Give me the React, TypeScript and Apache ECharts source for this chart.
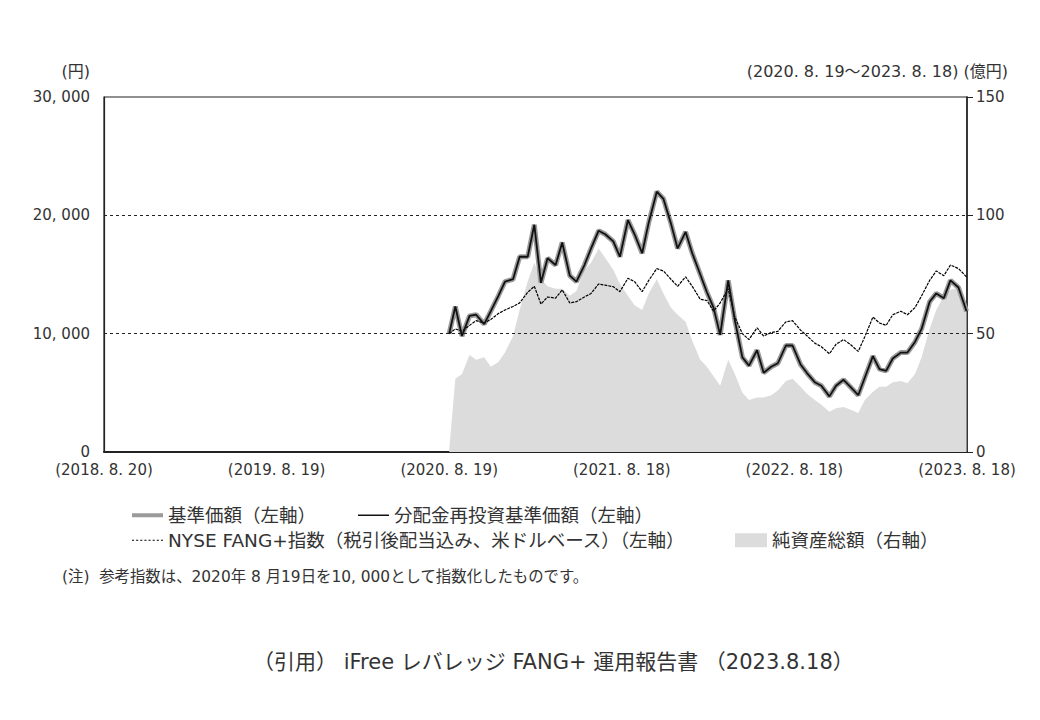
import React, { useEffect, useRef } from 'react';
import * as echarts from 'echarts';

const startDate = '2018-08-20';
const xTickLabels = ['(2018. 8. 20)', '(2019. 8. 19)', '(2020. 8. 19)', '(2021. 8. 18)', '(2022. 8. 18)', '(2023. 8. 18)'];
const dottedLevels = [10000, 20000];

const dates = [
  '2020-08-19', '2020-09-01', '2020-09-15', '2020-10-01', '2020-10-15', '2020-11-01', '2020-11-15', '2020-12-01', '2020-12-15',
  '2021-01-01', '2021-01-15', '2021-02-01', '2021-02-15', '2021-03-01', '2021-03-15', '2021-04-01', '2021-04-15',
  '2021-05-01', '2021-05-15', '2021-06-01', '2021-06-15', '2021-07-01', '2021-07-15', '2021-08-01', '2021-08-15',
  '2021-09-01', '2021-09-15', '2021-10-01', '2021-10-15', '2021-11-01', '2021-11-15', '2021-12-01', '2021-12-15',
  '2022-01-01', '2022-01-15', '2022-02-01', '2022-02-15', '2022-03-01', '2022-03-15', '2022-04-01', '2022-04-15',
  '2022-05-01', '2022-05-15', '2022-06-01', '2022-06-15', '2022-07-01', '2022-07-15', '2022-08-01', '2022-08-15',
  '2022-09-01', '2022-09-15', '2022-10-01', '2022-10-15', '2022-11-01', '2022-11-15', '2022-12-01', '2022-12-15',
  '2023-01-01', '2023-01-15', '2023-02-01', '2023-02-15', '2023-03-01', '2023-03-15', '2023-04-01', '2023-04-15',
  '2023-05-01', '2023-05-15', '2023-06-01', '2023-06-15', '2023-07-01', '2023-07-15', '2023-08-01', '2023-08-18',
];

// 基準価額 (円) — 分配金再投資基準価額 is the same (no distributions)
const navValues = [
  10000, 12300, 9800, 11500, 11600, 10800, 11900, 13200, 14400, 14600,
  16500, 16500, 19200, 14300, 16370, 15800, 17700, 14900, 14400, 15800,
  17200, 18700, 18400, 17800, 16500, 19600, 18400, 16800, 19400, 22000,
  21400, 19300, 17200, 18600, 16800, 15000, 13500, 12200, 9900, 14500,
  11150, 8000, 7300, 8600, 6700, 7200, 7500, 9000, 9000, 7400,
  6650, 5900, 5600, 4700, 5600, 6100, 5520, 4800, 6300, 8100,
  7000, 6850, 7900, 8400, 8400, 9300, 10400, 12700, 13400, 13000,
  14500, 13900, 11900,
];

// NYSE FANG+ index, rebased to 10,000
const indexValues = [
  10000, 10400, 10200, 10700, 11100, 10900, 11200, 11700, 12000, 12300,
  12600, 13500, 14000, 12500, 13100, 13000, 13700, 12600, 12700, 13100,
  13400, 14200, 14100, 13970, 13550, 14680, 14400, 13550, 14500, 15500,
  15300, 14600, 14000, 14800, 14000, 12900, 12800, 11900, 12600, 13800,
  11400, 10000, 9500, 10500, 9800, 10100, 10200, 11000, 11100, 10300,
  9800, 9200, 8900, 8300, 9100, 9500, 9100, 8500, 9750, 11400,
  10900, 10700, 11600, 11900, 11600, 12200, 13200, 14500, 15300, 14900,
  15800, 15500, 14800,
];

// 純資産総額 (億円)
const assetValues = [
  1, 31, 33, 41, 39, 40, 36, 38, 42, 49,
  60, 72, 80, 73, 70, 69, 69, 66, 68, 77,
  80, 86, 82, 77, 71, 66, 62, 60, 67, 73,
  67, 61, 58, 55, 47, 39, 36, 32, 28, 39,
  33, 25, 22, 23, 23, 24, 26, 30, 31, 27.6,
  24.5, 22, 20, 17, 18.5, 19, 18, 16.5, 22, 25.5,
  27.6, 27.6, 29.5, 30, 29, 33, 40, 52, 60, 66,
  68.4, 69.5, 61,
];

const FONT = "'DejaVu Sans', 'Noto Sans CJK JP', sans-serif";
const TEXT = '#333';
const DASH_ICON = 'path://M0,0h2v1h-2zM4,0h2v1h-2zM8,0h2v1h-2zM12,0h2v1h-2zM16,0h2v1h-2zM20,0h2v1h-2zM24,0h2v1h-2zM28,0h2v1h-2z';

const dayOf = (d: string) => Math.round((Date.parse(d) - Date.parse(startDate)) / 86400000);
const pairs = (vals: number[]) => dates.map((d, i) => [dayOf(d), vals[i]]);

const NAV_NAME = '基準価額（左軸）';
const REINV_NAME = '分配金再投資基準価額（左軸）';
const INDEX_NAME = 'NYSE FANG+指数（税引後配当込み、米ドルベース）（左軸）';
const ASSET_NAME = '純資産総額（右軸）';

const App: React.FC = () => {
  const chartRef = useRef<HTMLDivElement>(null);

  useEffect(() => {
    if (!chartRef.current) return;
    const chart = echarts.init(chartRef.current, undefined, { renderer: 'svg' });
    const legendText = { fontFamily: FONT, fontSize: 18.5, color: TEXT };
    const legendBase = { padding: 0, itemGap: 0, textStyle: legendText };
    const option = {
      animation: false,
      textStyle: { fontFamily: FONT },
      grid: { left: 104, right: 73, top: 97, bottom: 268, show: true, borderColor: '#222', borderWidth: 1.2 },
      legend: [
        { ...legendBase, data: [{ name: NAV_NAME, icon: 'rect' }], left: 132, top: 506, itemWidth: 31, itemHeight: 4 },
        { ...legendBase, data: [{ name: REINV_NAME, icon: 'rect' }], left: 358, top: 506, itemWidth: 31, itemHeight: 1.5 },
        { ...legendBase, data: [{ name: INDEX_NAME, icon: DASH_ICON }], left: 132, top: 531, itemWidth: 31, itemHeight: 1.2 },
        { ...legendBase, data: [{ name: ASSET_NAME, icon: 'rect' }], left: 735, top: 531, itemWidth: 32, itemHeight: 14 },
      ],
      xAxis: {
        type: 'value',
        min: 0,
        max: 1825,
        interval: 365,
        axisLine: { show: true, lineStyle: { color: '#222', width: 2 } },
        axisTick: { show: false },
        splitLine: { show: false },
        axisLabel: {
          formatter: (v: number) => xTickLabels[Math.round(v / 365)] ?? '',
          margin: 10,
          fontSize: 15,
          lineHeight: 16,
          color: TEXT,
          fontFamily: FONT,
        },
      },
      yAxis: [
        {
          type: 'value',
          position: 'left',
          min: 0,
          max: 30000,
          interval: 10000,
          axisLine: { show: true, lineStyle: { color: '#222', width: 1.2 } },
          axisTick: { show: false },
          splitLine: { show: false },
          axisLabel: {
            formatter: (v: number) => (v === 0 ? '0' : `${v / 1000}, 000`),
            margin: 14,
            fontSize: 15,
            lineHeight: 16,
            color: TEXT,
            fontFamily: FONT,
          },
        },
        {
          type: 'value',
          position: 'right',
          min: 0,
          max: 150,
          interval: 50,
          axisLine: { show: true, lineStyle: { color: '#222', width: 1.5 } },
          axisTick: { show: true, inside: false, length: 6, lineStyle: { color: '#222' } },
          splitLine: { show: false },
          axisLabel: { margin: 9, fontSize: 15, lineHeight: 16, color: TEXT, fontFamily: FONT },
        },
      ],
      graphic: [
        { type: 'text', right: 950, top: 63, style: { text: '(円)', font: `16px ${FONT}`, fill: TEXT } },
        { type: 'text', right: 32, top: 63, style: { text: '(2020. 8. 19～2023. 8. 18) (億円)', font: `16px ${FONT}`, fill: TEXT } },
        { type: 'text', left: 62, top: 569, style: { text: '(注)  参考指数は、2020年 8 月19日を10, 000として指数化したものです。', font: `15.4px ${FONT}`, fill: TEXT } },
        { type: 'text', left: 253, top: 651, style: { text: '（引用） iFree レバレッジ FANG+ 運用報告書 （2023.8.18）', font: `21px ${FONT}`, fill: TEXT } },
      ],
      series: [
        {
          name: ASSET_NAME,
          type: 'line',
          yAxisIndex: 1,
          data: pairs(assetValues),
          symbol: 'none',
          lineStyle: { width: 0 },
          itemStyle: { color: '#dcdcdd' },
          areaStyle: { color: '#dcdcdd', opacity: 1 },
          z: 1,
        },
        {
          name: NAV_NAME,
          type: 'line',
          data: pairs(navValues),
          symbol: 'none',
          itemStyle: { color: '#9a9a9a' },
          lineStyle: { color: '#9a9a9a', width: 5 },
          markLine: {
            silent: true,
            symbol: ['none', 'none'],
            label: { show: false },
            lineStyle: { color: '#222', type: [3, 3], width: 1 },
            data: dottedLevels.map((v) => ({ yAxis: v })),
          },
          z: 2,
        },
        {
          name: INDEX_NAME,
          type: 'line',
          data: pairs(indexValues),
          symbol: 'none',
          itemStyle: { color: '#000' },
          lineStyle: { color: '#000', width: 1.2, type: [3, 1] },
          z: 3,
        },
        {
          name: REINV_NAME,
          type: 'line',
          data: pairs(navValues),
          symbol: 'none',
          itemStyle: { color: '#111' },
          lineStyle: { color: '#111', width: 1.8 },
          z: 4,
        },
      ],
    };
    chart.setOption(option);
    return () => { chart.dispose(); };
  }, []);

  return <div ref={chartRef} style={{ position: 'fixed', left: 0, top: 0, width: 1040, height: 720, background: '#fff' }} />;
};

export default App;
